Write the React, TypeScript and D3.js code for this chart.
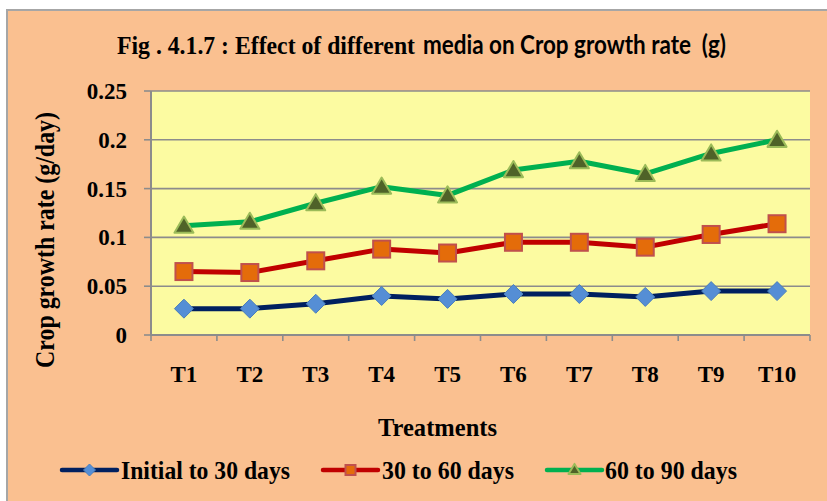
import React from "react";
import * as d3 from "d3";

const categories = ["T1", "T2", "T3", "T4", "T5", "T6", "T7", "T8", "T9", "T10"];
const initialTo30 = [0.027, 0.027, 0.032, 0.04, 0.037, 0.042, 0.042, 0.039, 0.045, 0.045];
const from30To60 = [0.065, 0.064, 0.076, 0.088, 0.084, 0.095, 0.095, 0.09, 0.103, 0.114];
const from60To90 = [0.112, 0.116, 0.135, 0.152, 0.143, 0.169, 0.178, 0.165, 0.186, 0.2];
const yTicks = [0, 0.05, 0.1, 0.15, 0.2, 0.25];
const yTickLabels = ["0", "0.05", "0.1", "0.15", "0.2", "0.25"];
const seriesNames = ["Initial to 30 days", "30 to 60 days", "60 to 90 days"];

const W = 827;
const H = 501;
const plot = { left: 151, right: 810, top: 91, bottom: 335 };
const serif = "'Liberation Serif', 'Times New Roman', serif";

const series = [
  { name: seriesNames[0], values: initialTo30, line: "#002060", fill: "#558ED5", stroke: "#4A7EBB", marker: "diamond" },
  { name: seriesNames[1], values: from30To60, line: "#C00000", fill: "#E46C0A", stroke: "#C0504D", marker: "square" },
  { name: seriesNames[2], values: from60To90, line: "#00B050", fill: "#4F6228", stroke: "#9BBB59", marker: "triangle" },
];

function Marker({ type, x, y, s, fill, stroke }: { type: string; x: number; y: number; s: number; fill: string; stroke: string }) {
  if (type === "diamond") {
    const r = s / 2;
    return <path d={`M${x},${y - r}L${x + r},${y}L${x},${y + r}L${x - r},${y}Z`} fill={fill} stroke={stroke} strokeWidth={1} />;
  }
  if (type === "square") {
    const r = s / 2 - 1;
    return <rect x={x - r} y={y - r} width={2 * r} height={2 * r} fill={fill} stroke={stroke} strokeWidth={2} />;
  }
  const h = s * 0.85;
  const r = s / 2;
  return (
    <path
      d={`M${x},${y - h / 2 - 1}L${x + r},${y + h / 2 - 1}L${x - r},${y + h / 2 - 1}Z`}
      fill={fill}
      stroke={stroke}
      strokeWidth={2}
      strokeLinejoin="round"
    />
  );
}

export default function App() {
  const x = d3.scaleBand<string>().domain(categories).range([plot.left, plot.right]);
  const y = d3.scaleLinear().domain([0, 0.25]).range([plot.bottom, plot.top]);
  const cx = (c: string) => (x(c) as number) + x.bandwidth() / 2;
  const boundaries = categories.map((c) => x(c) as number).concat([plot.right]);

  const legendItems = [
    { lineX: 62, textX: 121, w: 169 },
    { lineX: 323, textX: 382, w: 132 },
    { lineX: 547, textX: 605, w: 132 },
  ];

  return (
    <svg
      width={W}
      height={H}
      style={{ position: "absolute", left: 0, top: 0, display: "block" }}
      xmlns="http://www.w3.org/2000/svg"
    >
      <rect x={0} y={0} width={W} height={H} fill="#ffffff" />
      <rect x={7} y={10} width={W} height={H} fill="#FAC090" stroke="#A6A6A6" strokeWidth={2} />

      <text x={117} y={54} fontFamily={serif} fontWeight="bold" fontSize={26} textLength={298} lengthAdjust="spacingAndGlyphs">
        Fig . 4.1.7 : Effect of different
      </text>
      <text
        x={423}
        y={54}
        fontFamily="Lato, 'Open Sans', sans-serif"
        fontWeight="bold"
        fontSize={26}
        textLength={303}
        lengthAdjust="spacingAndGlyphs"
        style={{ whiteSpace: "pre" }}
      >
        {"media on Crop growth rate  (g)"}
      </text>

      <rect x={plot.left} y={plot.top} width={plot.right - plot.left} height={plot.bottom - plot.top} fill="#FCFBA1" />

      {yTicks.slice(1).map((t) => (
        <line key={t} x1={plot.left} x2={plot.right} y1={y(t)} y2={y(t)} stroke="#8C8C8C" strokeWidth={1.6} />
      ))}
      {yTicks.map((t) => (
        <line key={"tk" + t} x1={144} x2={plot.left} y1={y(t)} y2={y(t)} stroke="#8C8C8C" strokeWidth={1.6} />
      ))}
      <line x1={plot.left} x2={plot.left} y1={plot.top} y2={plot.bottom} stroke="#8C8C8C" strokeWidth={2} />
      <line x1={plot.left - 1} x2={plot.right} y1={plot.bottom} y2={plot.bottom} stroke="#8C8C8C" strokeWidth={2} />
      {boundaries.map((b, i) => (
        <line key={"xb" + i} x1={b} x2={b} y1={plot.bottom} y2={plot.bottom + 6} stroke="#8C8C8C" strokeWidth={1.6} />
      ))}

      {yTicks.map((t, i) => (
        <text key={"yl" + t} x={127} y={y(t) + 8} textAnchor="end" fontFamily={serif} fontWeight="bold" fontSize={23}>
          {yTickLabels[i]}
        </text>
      ))}
      {categories.map((c) => (
        <text key={"xl" + c} x={cx(c)} y={382} textAnchor="middle" fontFamily={serif} fontWeight="bold" fontSize={23}>
          {c}
        </text>
      ))}

      <text x={378} y={436} fontFamily={serif} fontWeight="bold" fontSize={26} textLength={119} lengthAdjust="spacingAndGlyphs">
        Treatments
      </text>
      <text
        transform={`translate(54,368) rotate(-90)`}
        fontFamily={serif}
        fontWeight="bold"
        fontSize={27}
        textLength={256}
        lengthAdjust="spacingAndGlyphs"
      >
        Crop growth rate (g/day)
      </text>

      {series.map((s) => {
        const line = d3
          .line<number>()
          .x((_, i) => cx(categories[i]))
          .y((v) => y(v));
        return (
          <g key={s.name}>
            <path d={line(s.values) || ""} fill="none" stroke={s.line} strokeWidth={5} strokeLinejoin="round" />
            {s.values.map((v, i) => (
              <Marker key={i} type={s.marker} x={cx(categories[i])} y={y(v)} s={19} fill={s.fill} stroke={s.stroke} />
            ))}
          </g>
        );
      })}

      {series.map((s, i) => {
        const li = legendItems[i];
        const ly = 470;
        return (
          <g key={"lg" + s.name}>
            <line x1={li.lineX} x2={li.lineX + 55} y1={ly} y2={ly} stroke={s.line} strokeWidth={4.5} strokeLinecap="round" />
            <Marker type={s.marker} x={li.lineX + 27.5} y={ly} s={12} fill={s.fill} stroke={s.stroke} />
            <text
              x={li.textX}
              y={ly + 9}
              fontFamily={serif}
              fontWeight="bold"
              fontSize={26}
              textLength={li.w}
              lengthAdjust="spacingAndGlyphs"
            >
              {s.name}
            </text>
          </g>
        );
      })}
    </svg>
  );
}
